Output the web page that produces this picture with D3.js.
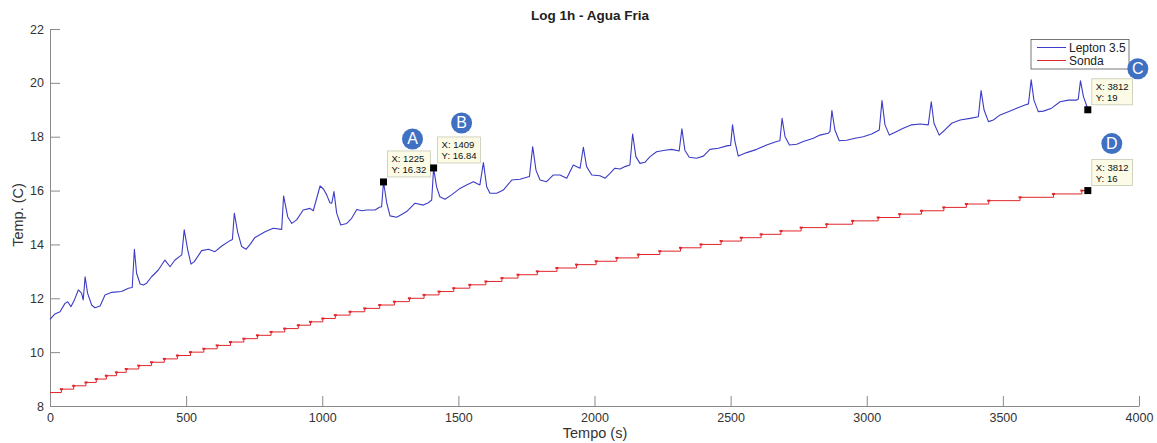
<!DOCTYPE html>
<html>
<head>
<meta charset="utf-8">
<script src="https://cdn.jsdelivr.net/npm/d3@7/dist/d3.min.js"></script>
<style>
  html, body { margin: 0; padding: 0; background: #fff; }
  svg { display: block; font-family: "Liberation Sans", Arial, Helvetica, sans-serif; }
</style>
</head>
<body>
<svg id="chart" width="1157" height="443"></svg>
<script>
// Lepton 3.5 thermal camera readings (time in s, temperature in C)
const leptonTime = [
  0, 18, 37, 55, 65, 77, 90, 104, 116, 122, 129, 138, 153, 165, 184, 202, 227, 263, 288, 302,
  310, 318, 331, 343, 355, 373, 398, 422, 441, 459, 484, 493, 506, 518, 530, 557, 582, 606, 631, 661,
  670, 677, 689, 704, 720, 735, 753, 790, 820, 851, 858, 873, 888, 906, 930, 955, 967, 992, 1005, 1016,
  1028, 1035, 1043, 1053, 1068, 1090, 1108, 1127, 1145, 1163, 1194, 1210, 1218, 1225, 1237, 1249, 1273, 1290, 1310, 1341,
  1371, 1390, 1402, 1409, 1420, 1432, 1451, 1475, 1506, 1530, 1555, 1579, 1592, 1604, 1616, 1641, 1665, 1696, 1726, 1761,
  1773, 1785, 1800, 1824, 1849, 1873, 1898, 1922, 1947, 1959, 1971, 1990, 2020, 2039, 2057, 2075, 2094, 2112, 2130, 2140,
  2152, 2167, 2185, 2204, 2228, 2259, 2284, 2311, 2321, 2332, 2348, 2375, 2400, 2424, 2455, 2486, 2500, 2507, 2516, 2528,
  2559, 2596, 2632, 2669, 2681, 2689, 2700, 2716, 2743, 2767, 2804, 2828, 2859, 2865, 2872, 2883, 2899, 2926, 2957, 2987,
  3018, 3046, 3056, 3067, 3083, 3110, 3134, 3165, 3196, 3226, 3237, 3247, 3266, 3287, 3312, 3343, 3379, 3410, 3420, 3431,
  3447, 3465, 3490, 3520, 3551, 3581, 3594, 3604, 3614, 3630, 3649, 3679, 3710, 3741, 3771, 3777, 3785, 3796, 3808, 3812
];
const leptonTemp = [
  11.22, 11.42, 11.50, 11.81, 11.87, 11.69, 11.95, 12.31, 12.19, 11.94, 12.80, 12.19, 11.75, 11.65, 11.71, 12.12, 12.22, 12.25, 12.37, 12.40,
  13.82, 12.93, 12.53, 12.49, 12.56, 12.80, 13.05, 13.42, 13.17, 13.42, 13.61, 14.54, 13.79, 13.27, 13.36, 13.77, 13.82, 13.73, 13.94, 14.14,
  14.18, 15.16, 14.47, 13.92, 13.82, 14.00, 14.26, 14.47, 14.60, 14.56, 15.80, 15.03, 14.78, 14.91, 15.28, 15.34, 15.25, 16.17, 16.05, 15.85,
  15.55, 15.53, 15.96, 15.16, 14.72, 14.78, 14.97, 15.30, 15.25, 15.28, 15.28, 15.38, 15.40, 16.32, 15.53, 15.06, 15.01, 15.10, 15.22, 15.53,
  15.46, 15.55, 15.65, 16.84, 16.14, 15.77, 15.68, 15.84, 16.08, 16.21, 16.33, 16.21, 17.04, 16.14, 15.90, 15.90, 16.02, 16.39, 16.42, 16.52,
  17.63, 16.76, 16.39, 16.33, 16.58, 16.58, 16.46, 16.95, 16.83, 17.61, 16.89, 16.58, 16.55, 16.46, 16.64, 16.83, 16.80, 16.89, 16.95, 18.10,
  17.26, 17.01, 17.05, 17.26, 17.44, 17.50, 17.53, 17.47, 18.29, 17.50, 17.24, 17.20, 17.28, 17.53, 17.57, 17.66, 17.68, 18.44, 17.82, 17.28,
  17.41, 17.53, 17.69, 17.82, 17.85, 18.68, 18.00, 17.69, 17.72, 17.82, 17.94, 18.06, 18.13, 18.20, 18.97, 18.25, 17.85, 17.87, 17.94, 18.00,
  18.10, 18.25, 19.34, 18.44, 18.06, 18.19, 18.31, 18.44, 18.47, 18.44, 19.30, 18.50, 18.06, 18.25, 18.50, 18.62, 18.68, 18.74, 19.71, 18.99,
  18.56, 18.62, 18.81, 18.93, 19.06, 19.18, 19.22, 20.11, 19.36, 18.93, 18.95, 19.06, 19.30, 19.36, 19.36, 19.40, 20.08, 19.49, 19.14, 19.00
];

// Reference probe (Sonda): time of each reading change and the new reading
const sondaTime = [
  0, 42, 87, 132, 170, 207, 244, 280, 326, 373, 420, 468, 516, 565, 614, 663, 712, 762, 812, 862,
  912, 957, 1002, 1048, 1102, 1156, 1211, 1265, 1320, 1374, 1429, 1483, 1542, 1601, 1660, 1719, 1790, 1862, 1934, 2006,
  2082, 2161, 2240, 2316, 2391, 2465, 2539, 2612, 2685, 2759, 2853, 2948, 3042, 3121, 3201, 3283, 3366, 3448, 3563, 3686,
  3790, 3812
];
const sondaTemp = [
  8.5, 8.625, 8.75, 8.875, 9.0, 9.125, 9.25, 9.375, 9.5, 9.625, 9.75, 9.875, 10.0, 10.125, 10.25, 10.375, 10.5, 10.625, 10.75, 10.875,
  11.0, 11.125, 11.25, 11.375, 11.5, 11.625, 11.75, 11.875, 12.0, 12.125, 12.25, 12.375, 12.5, 12.625, 12.75, 12.875, 13.0, 13.125, 13.25, 13.375,
  13.5, 13.625, 13.75, 13.875, 14.0, 14.125, 14.25, 14.375, 14.5, 14.625, 14.75, 14.875, 15.0, 15.125, 15.25, 15.375, 15.5, 15.625, 15.75, 15.875,
  16.0, 16.0
];

// Axis ticks
const xTicks = [0, 500, 1000, 1500, 2000, 2500, 3000, 3500, 4000];
const yTicks = [8, 10, 12, 14, 16, 18, 20, 22];

// Data tips
const tipTime = [1225, 1409, 3812, 3812];
const tipTemp = [16.32, 16.84, 19, 16];
const tipLetter = ["A", "B", "C", "D"];

const seriesNames = ["Lepton 3.5", "Sonda"];

// ---- layout ----
const svg = d3.select("#chart");
const x = d3.scaleLinear().domain([0, 4000]).range([50, 1139]);
const y = d3.scaleLinear().domain([8, 22]).range([406, 29]);

const BLUE = "#3c3cc6";
const RED = "#e0262a";
const AXIS = "#8a8a8a";

// axes (ticks pointing into the plot)
const xAxis = d3.axisBottom(x).tickValues(xTicks).tickSizeInner(-10).tickSizeOuter(0).tickPadding(7)
  .tickFormat(d3.format("d"));
const yAxis = d3.axisLeft(y).tickValues(yTicks).tickSizeInner(-10).tickSizeOuter(0).tickPadding(6)
  .tickFormat(d3.format("d"));

const gx = svg.append("g").attr("transform", `translate(0,${y(8)})`).call(xAxis);
const gy = svg.append("g").attr("transform", `translate(${x(0)},0)`).call(yAxis);
[gx, gy].forEach(g => {
  g.select(".domain").attr("stroke", AXIS).attr("stroke-width", 1);
  g.selectAll(".tick line").attr("stroke", AXIS).attr("stroke-width", 1);
  g.selectAll(".tick text").attr("fill", "#333").attr("font-size", 12.5)
    .attr("font-family", "'Liberation Sans', Arial, sans-serif");
});

// title and axis labels
svg.append("text").attr("x", 590).attr("y", 20).attr("text-anchor", "middle")
  .attr("font-weight", "bold").attr("font-size", 13.5).attr("fill", "#222")
  .text("Log 1h - Agua Fria");
svg.append("text").attr("x", 595).attr("y", 438).attr("text-anchor", "middle")
  .attr("font-size", 14.5).attr("fill", "#333").text("Tempo (s)");
svg.append("text").attr("transform", "translate(23,215) rotate(-90)").attr("text-anchor", "middle")
  .attr("font-size", 14.5).attr("fill", "#333").text("Temp. (C)");

// series
const lepton = leptonTime.map((t, i) => [t, leptonTemp[i]]);
const sonda = sondaTime.map((t, i) => [t, sondaTemp[i]]);

svg.append("path").datum(sonda)
  .attr("fill", "none").attr("stroke", RED).attr("stroke-width", 1)
  .attr("d", d3.line().x(d => x(d[0])).y(d => y(d[1])).curve(d3.curveStepAfter));

svg.append("g").selectAll("rect").data(sonda.slice(1, -1)).join("rect")
  .attr("x", d => x(d[0]) - 1.5).attr("y", d => y(d[1]) - 1)
  .attr("width", 3).attr("height", 2).attr("fill", RED);

svg.append("path").datum(lepton)
  .attr("fill", "none").attr("stroke", BLUE).attr("stroke-width", 1.1)
  .attr("stroke-linejoin", "round")
  .attr("d", d3.line().x(d => x(d[0])).y(d => y(d[1])));

// legend
const lg = svg.append("g");
lg.append("rect").attr("x", 1031).attr("y", 39.5).attr("width", 98).attr("height", 29.5)
  .attr("fill", "#fff").attr("stroke", "#555").attr("stroke-width", 0.8);
[BLUE, RED].forEach((c, i) => {
  const yy = 47.5 + i * 13;
  lg.append("line").attr("x1", 1037).attr("x2", 1066).attr("y1", yy).attr("y2", yy)
    .attr("stroke", c).attr("stroke-width", 1);
  lg.append("text").attr("x", 1069).attr("y", yy + 4.5).attr("font-size", 12).attr("fill", "#222")
    .text(seriesNames[i]);
});

// data tips with lettered badges
const badgeOffset = [[29, -43], [28, -45], [50, -41], [24, -47]];
tipTime.forEach((t, i) => {
  const mx = x(t), my = y(tipTemp[i]);
  const g = svg.append("g");
  const box = g.append("rect").attr("fill", "#fbfbe6").attr("stroke", "#c8c8b4").attr("stroke-width", 0.8);
  const l1 = g.append("text").attr("font-size", 9.5).attr("fill", "#111").text(`X: ${t}`);
  const l2 = g.append("text").attr("font-size", 9.5).attr("fill", "#111").text(`Y: ${tipTemp[i]}`);
  const w = Math.max(l1.node().getComputedTextLength(), l2.node().getComputedTextLength()) + 8;
  const bx = mx + 4, by = my - 31;
  box.attr("x", bx).attr("y", by).attr("width", w).attr("height", 26);
  l1.attr("x", bx + 4).attr("y", by + 11);
  l2.attr("x", bx + 4).attr("y", by + 22);
  g.append("rect").attr("x", mx - 3.5).attr("y", my - 3.5).attr("width", 7).attr("height", 7).attr("fill", "#000");

  const cx = mx + badgeOffset[i][0], cy = my + badgeOffset[i][1];
  g.append("circle").attr("cx", cx).attr("cy", cy).attr("r", 10.5).attr("fill", "#3f70c2");
  g.append("text").attr("x", cx).attr("y", cy + 5.5).attr("text-anchor", "middle")
    .attr("font-size", 16).attr("fill", "#fff").text(tipLetter[i]);
});
</script>
</body>
</html>
